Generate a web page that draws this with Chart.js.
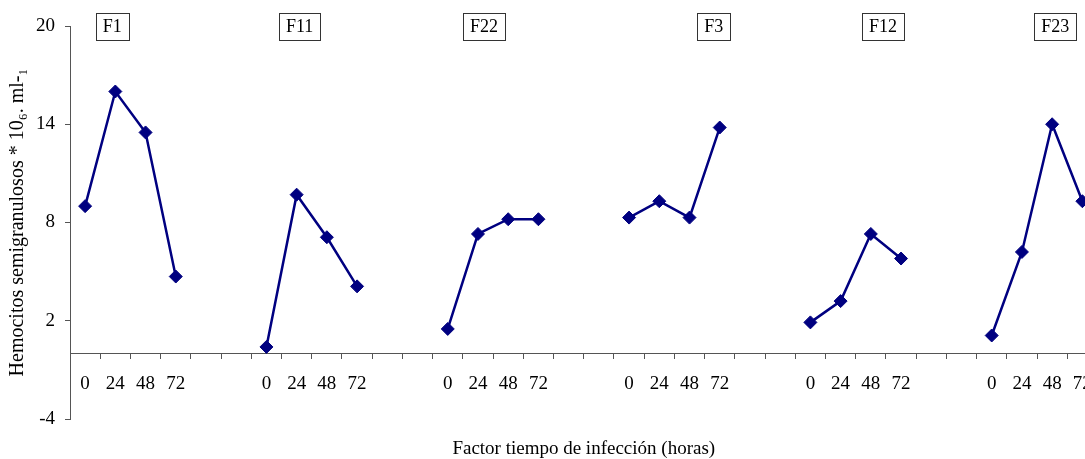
<!DOCTYPE html>
<html>
<head>
<meta charset="utf-8">
<script src="https://cdn.jsdelivr.net/npm/chart.js@4/dist/chart.umd.min.js"></script>
<style>
  html, body { margin: 0; padding: 0; background: #fff; overflow: hidden; }
  #wrap { width: 1106px; height: 459px; position: relative; }
</style>
</head>
<body>
<div id="wrap"><canvas id="myChart"></canvas></div>
<script>
// groups (treatments) and sampling hours
const groups = ['F1', 'F11', 'F22', 'F3', 'F12', 'F23'];
const hours = ['0', '24', '48', '72'];
// where each boxed group label sits, in category units
const groupLabelPos = [0.9, 7.1, 13.2, 20.8, 26.4, 32.1];

// hemocitos semigranulosos per group, at 0, 24, 48, 72 h
const f1 = [9.0, 16.0, 13.5, 4.7];
const f11 = [0.4, 9.7, 7.1, 4.1];
const f22 = [1.5, 7.3, 8.2, 8.2];
const f3 = [8.3, 9.3, 8.3, 13.8];
const f12 = [1.9, 3.2, 7.3, 5.8];
const f23 = [1.1, 6.2, 14.0, 9.3];

const yTicks = [-4, 2, 8, 14, 20];

// two empty slots between groups
const seriesList = [f1, f11, f22, f3, f12, f23];
let labels = [];
let values = [];
seriesList.forEach(function (s, i) {
    hours.forEach(function (h, j) {
        labels.push(h);
        values.push(s[j]);
    });
    if (i < seriesList.length - 1) {
        labels.push('', '');
        values.push(null, null);
    }
});

const serif = "'Liberation Serif', 'Times New Roman', serif";

// boxed group names at the top of the plot
const groupBoxes = {
    id: 'groupBoxes',
    afterDraw(chart) {
        const ctx = chart.ctx;
        const x = chart.scales.x;
        const y = chart.scales.y;
        ctx.save();
        ctx.font = '18px ' + serif;
        ctx.textAlign = 'center';
        ctx.textBaseline = 'middle';
        groups.forEach(function (g, i) {
            const cx = x.getPixelForValue(groupLabelPos[i]);
            const cy = y.getPixelForValue(20);
            const w = ctx.measureText(g).width + 14;
            const h = 27;
            ctx.fillStyle = '#fff';
            ctx.fillRect(cx - w / 2, cy - h / 2, w, h);
            ctx.strokeStyle = '#333';
            ctx.lineWidth = 1;
            ctx.strokeRect(Math.round(cx - w / 2) + 0.5, Math.round(cy - h / 2) + 0.5, Math.round(w), h);
            ctx.fillStyle = '#000';
            ctx.fillText(g, cx, cy + 1);
        });
        ctx.restore();
    }
};

const ctx = document.getElementById('myChart').getContext('2d');
const myChart = new Chart(ctx, {
    type: 'line',
    data: {
        labels: labels,
        datasets: [{
            data: values,
            borderColor: '#000080',
            backgroundColor: '#000080',
            borderWidth: 2.5,
            pointStyle: 'rectRot',
            pointRadius: 6.5,
            pointBorderWidth: 1,
            spanGaps: false,
            tension: 0
        }]
    },
    options: {
        responsive: true,
        maintainAspectRatio: false,
        animation: false,
        layout: { padding: { top: 26, right: 3, left: 0, bottom: 0 } },
        plugins: {
            legend: { display: false },
            tooltip: { enabled: false },
            title: {
                display: true,
                position: 'bottom',
                fullSize: false,
                text: 'Factor tiempo de infección (horas)',
                color: '#000',
                font: { family: serif, size: 19, weight: 'normal', lineHeight: 1.0 },
                padding: { top: 21, bottom: 0 }
            }
        },
        scales: {
            x: {
                position: { y: 0 },
                offset: true,
                grid: { offset: true, drawOnChartArea: false, tickLength: 5, color: '#555' },
                border: { color: '#555', width: 1 },
                ticks: {
                    autoSkip: false,
                    maxRotation: 0,
                    padding: 14,
                    color: '#000',
                    font: { family: serif, size: 19 }
                }
            },
            y: {
                min: -4,
                max: 20,
                afterBuildTicks(scale) {
                    scale.ticks = yTicks.map(function (v) { return { value: v }; });
                },
                afterFit(scale) { scale.width = 70; },
                grid: { drawOnChartArea: false, tickLength: 5, color: '#555' },
                border: { color: '#555', width: 1 },
                ticks: {
                    padding: 10,
                    color: '#000',
                    font: { family: serif, size: 19 }
                },
                title: {
                    display: true,
                    text: 'Hemocitos semigranulosos * 10\u2086. ml-\u2081',
                    color: '#000',
                    font: { family: serif, size: 20 },
                    padding: { top: 6, bottom: 0 }
                }
            }
        }
    },
    plugins: [groupBoxes]
});
</script>
</body>
</html>
